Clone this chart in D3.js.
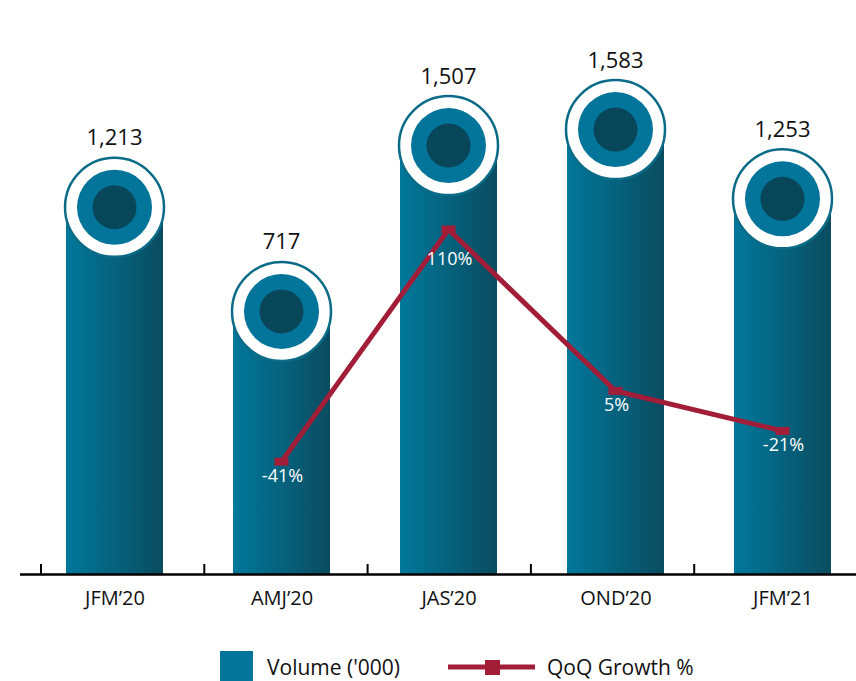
<!DOCTYPE html>
<html>
<head>
<meta charset="utf-8">
<script src="https://cdn.jsdelivr.net/npm/d3@7/dist/d3.min.js"></script>
<style>
  html, body { margin: 0; padding: 0; background: #ffffff; }
  svg { display: block; }
  text { font-family: "Open Sans", "Noto Sans", sans-serif; }
</style>
</head>
<body>
<svg id="chart" width="856" height="681"></svg>
<script>
// ---- data ----
const categories = ["JFM’20", "AMJ’20", "JAS’20", "OND’20", "JFM’21"];
const volume = [1213, 717, 1507, 1583, 1253];
const volumeLabels = ["1,213", "717", "1,507", "1,583", "1,253"];
const growth = [null, -41, 110, 5, -21];
const growthLabels = ["", "-41%", "110%", "5%", "-21%"];
const legendLabels = ["Volume ('000)", "QoQ Growth %"];

// ---- layout ----
const W = 856, H = 681;
const baseY = 574;
const svg = d3.select("#chart");

const xBand = d3.scaleBand().domain(categories).range([41, 857.5]).padding(0);
const xPos = d3.scalePoint().domain(categories).range([114.5, 782.5]);
const yVol = d3.scaleLinear().domain([0, 1600]).range([462, 126]);
const yGrowth = d3.scaleLinear().domain([-50, 120]).range([475.5, 214.1]);

const barW = 97;

// gradient
const defs = svg.append("defs");
const grad = defs.append("linearGradient").attr("id", "barGrad")
  .attr("x1", "0%").attr("x2", "100%").attr("y1", "0%").attr("y2", "0%");
grad.append("stop").attr("offset", "0%").attr("stop-color", "#01789b");
grad.append("stop").attr("offset", "100%").attr("stop-color", "#0a4c60");

// bars
const g = svg.append("g");
g.selectAll("rect.bar").data(categories).enter().append("rect")
  .attr("class", "bar")
  .attr("x", d => xPos(d) - barW / 2)
  .attr("y", (d, i) => yVol(volume[i]))
  .attr("width", barW)
  .attr("height", (d, i) => baseY - yVol(volume[i]))
  .attr("fill", "url(#barGrad)");

// tops
const tops = g.selectAll("g.top").data(categories).enter().append("g")
  .attr("class", "top")
  .attr("transform", (d, i) => `translate(${xPos(d)},${yVol(volume[i])})`);
tops.append("circle").attr("r", 49.5).attr("fill", "#ffffff")
  .attr("stroke", "#0c6c87").attr("stroke-width", 2.5);
tops.append("circle").attr("r", 37.5).attr("fill", "#03749a");
tops.append("circle").attr("r", 22).attr("fill", "#08465a");

// value labels
g.selectAll("text.val").data(categories).enter().append("text")
  .attr("class", "val")
  .attr("x", d => xPos(d))
  .attr("y", (d, i) => yVol(volume[i]) - 62)
  .attr("text-anchor", "middle")
  .attr("font-size", 22)
  .attr("fill", "#111")
  .text((d, i) => volumeLabels[i]);

// axis line
svg.append("line").attr("x1", 20).attr("x2", W).attr("y1", baseY + 0.5).attr("y2", baseY + 0.5)
  .attr("stroke", "#000").attr("stroke-width", 2.6);
// boundary ticks
svg.selectAll("line.tk").data(categories).enter().append("line")
  .attr("class", "tk")
  .attr("x1", d => xBand(d)).attr("x2", d => xBand(d))
  .attr("y1", baseY - 10).attr("y2", baseY)
  .attr("stroke", "#000").attr("stroke-width", 2);

// category labels via axis
const axis = d3.axisBottom(xPos).tickSize(0).tickPadding(0);
const axG = svg.append("g").attr("transform", `translate(0,${baseY})`).call(axis);
axG.select(".domain").remove();
axG.selectAll("text")
  .attr("font-family", "'Open Sans', 'Noto Sans', sans-serif")
  .attr("font-size", 20)
  .attr("fill", "#111")
  .attr("dy", 0)
  .attr("y", 31);

// growth line
const gPts = categories.map((c, i) => ({ c, v: growth[i], lab: growthLabels[i], i }))
  .filter(p => p.v !== null);
const line = d3.line().x(p => xPos(p.c)).y(p => yGrowth(p.v));
const lineColor = "#a21d38";
svg.append("path").datum(gPts).attr("d", line)
  .attr("fill", "none").attr("stroke", lineColor).attr("stroke-width", 5)
  .attr("stroke-linejoin", "miter");
svg.selectAll("rect.mk").data(gPts).enter().append("rect")
  .attr("class", "mk")
  .attr("x", p => xPos(p.c) - 7)
  .attr("y", p => yGrowth(p.v) - 4)
  .attr("width", 14).attr("height", 8)
  .attr("fill", lineColor);

// growth labels (push further down at peaks so the line doesn't cross the text)
svg.selectAll("text.gl").data(gPts).enter().append("text")
  .attr("class", "gl")
  .attr("x", p => xPos(p.c) + 1)
  .attr("y", (p, k) => {
    const prev = gPts[k - 1], next = gPts[k + 1];
    const peak = prev && next && p.v > prev.v && p.v > next.v;
    return yGrowth(p.v) + (peak ? 36 : 20);
  })
  .attr("text-anchor", "middle")
  .attr("font-size", 18)
  .attr("fill", "#ffffff")
  .text(p => p.lab);

// legend
const lg = svg.append("g");
lg.append("rect").attr("x", 220).attr("y", 651).attr("width", 33).attr("height", 33).attr("fill", "#03749a");
lg.append("text").attr("x", 267).attr("y", 675).attr("font-size", 21).attr("fill", "#111").text(legendLabels[0]);
lg.append("line").attr("x1", 448).attr("x2", 535).attr("y1", 667).attr("y2", 667)
  .attr("stroke", lineColor).attr("stroke-width", 5);
lg.append("rect").attr("x", 485).attr("y", 660).attr("width", 15).attr("height", 15).attr("fill", lineColor);
lg.append("text").attr("x", 547).attr("y", 675).attr("font-size", 21).attr("fill", "#111").text(legendLabels[1]);
</script>
</body>
</html>
